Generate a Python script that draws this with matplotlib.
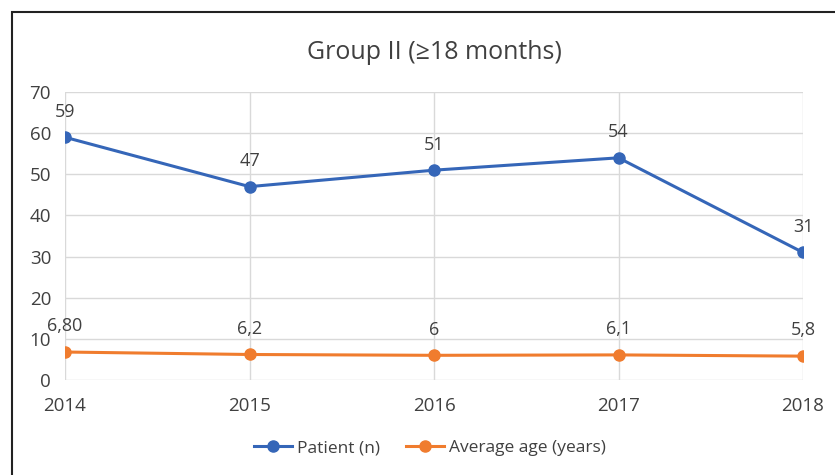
import matplotlib
matplotlib.use("Agg")
import matplotlib.pyplot as plt
from matplotlib.patches import Rectangle

years = [2014, 2015, 2016, 2017, 2018]
patients = [59, 47, 51, 54, 31]
avg_age = [6.8, 6.2, 6.0, 6.1, 5.8]
patient_labels = ["59", "47", "51", "54", "31"]
age_labels = ["6,80", "6,2", "6", "6,1", "5,8"]
yticks = [0, 10, 20, 30, 40, 50, 60, 70]

blue = "#3566B8"
orange = "#F07C2E"
txt = "#404040"

plt.rcParams['font.family'] = ['Open Sans', 'DejaVu Sans']

fig = plt.figure(figsize=(8.35, 4.75), dpi=100)
fig.patches.append(Rectangle((12/835, -0.1), 1.2, 1 - 12/475 + 0.1, transform=fig.transFigure,
                             fill=False, edgecolor="#222222", linewidth=1.5))
ax = fig.add_axes([65/835, 1 - 380/475, (803 - 65)/835, (380 - 92)/475])

ax.plot(years, patients, color=blue, linewidth=2.2, marker="o", markersize=8, label="Patient (n)", zorder=3)
ax.plot(years, avg_age, color=orange, linewidth=2.2, marker="o", markersize=8, label="Average age (years)", zorder=3)

for x, y, s in zip(years, patients, patient_labels):
    ax.annotate(s, (x, y), xytext=(0, 12), textcoords="offset points", ha="center", va="bottom",
                fontsize=13, color=txt)
for x, y, s in zip(years, avg_age, age_labels):
    ax.annotate(s, (x, y), xytext=(0, 12), textcoords="offset points", ha="center", va="bottom",
                fontsize=13, color=txt)

ax.set_xlim(years[0], years[-1])
ax.set_ylim(0, 70)
ax.set_yticks(yticks)
ax.set_xticks(years)
ax.grid(True, color="#D9D9D9", linewidth=1)
ax.set_axisbelow(True)
for s in ax.spines.values():
    s.set_visible(False)
ax.tick_params(length=0, labelsize=13.5, labelcolor=txt, pad=10)
ax.tick_params(axis="x", pad=12)

ax.set_title("Group II (\u226518 months)", fontsize=18, color=txt, pad=24)

fig.legend(loc="center", bbox_to_anchor=(430/835, 1 - 448/475), ncol=2, frameon=False,
           fontsize=12.5, labelcolor=txt, handlelength=2.2, columnspacing=1.5, handletextpad=0.3)

fig.savefig("out.png", dpi=100)
